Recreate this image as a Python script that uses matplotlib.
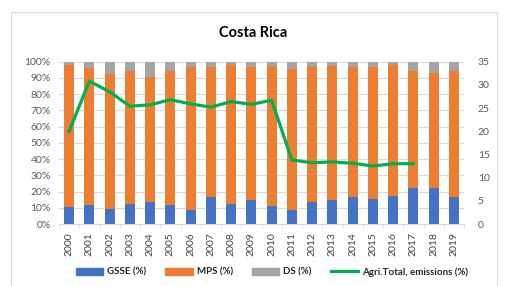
import numpy as np
import matplotlib
matplotlib.use("Agg")
import matplotlib.pyplot as plt
from matplotlib.lines import Line2D
from matplotlib.patches import Patch

plt.rcParams['font.family'] = ['Lato', 'DejaVu Sans']

years = [str(y) for y in range(2000, 2020)]
gsse = [10.3, 11.9, 9.4, 12.1, 13.3, 11.9, 8.8, 16.4, 12.5, 15.0,
        10.9, 8.8, 13.8, 15.0, 16.8, 15.6, 17.2, 22.4, 22.0, 16.4]
gsse_mps_top = [97.7, 95.9, 92.4, 94.5, 90.6, 94.0, 96.7, 96.5, 97.7, 96.5,
                97.1, 95.3, 96.5, 97.1, 96.5, 96.9, 97.7, 94.0, 93.2, 94.0]
mps = [t - g for t, g in zip(gsse_mps_top, gsse)]
ds = [100 - t for t in gsse_mps_top]
emissions = [20.0, 30.8, 28.5, 25.4, 25.7, 26.8, 25.9, 25.2, 26.4, 25.8,
             26.7, 13.8, 13.2, 13.4, 13.1, 12.5, 13.0, 13.0, np.nan, np.nan]

c_blue = '#4472C4'
c_orange = '#ED7D31'
c_gray = '#A5A5A5'
c_green = '#00B050'
txt = '#595959'
grid = '#D9D9D9'

fig = plt.figure(figsize=(5.06, 2.86), dpi=100, facecolor='white')
ax = fig.add_axes([59 / 506, 1 - 224 / 286, (464 - 59) / 506, (224 - 61.7) / 286])

x = np.arange(len(years))
w = 0.5
ax.bar(x, gsse, w, color=c_blue, zorder=2)
ax.bar(x, mps, w, bottom=gsse, color=c_orange, zorder=2)
ax.bar(x, ds, w, bottom=gsse_mps_top, color=c_gray, zorder=2)

ax.set_xlim(-0.5, len(years) - 0.5)
ax.set_ylim(0, 100)
ax.set_yticks(np.arange(0, 101, 10))
ax.set_yticklabels([f"{v}%" for v in range(0, 101, 10)])
ax.set_xticks(x)
ax.set_xticklabels(years, rotation=90)
ax.set_xticks(np.arange(-0.5, len(years), 1), minor=True)
ax.tick_params(axis='x', which='major', length=0, pad=6, labelsize=7.5, colors='#404040')
ax.tick_params(axis='x', which='minor', length=3, color=grid)
ax.tick_params(axis='y', length=0, pad=6, labelsize=7.5, colors=txt)
ax.grid(axis='y', color=grid, linewidth=0.8, zorder=0)
for s in ['top', 'right', 'left']:
    ax.spines[s].set_visible(False)
ax.spines['bottom'].set_color(grid)

ax2 = ax.twinx()
ax2.plot(x, emissions, color=c_green, linewidth=2.3, zorder=3)
ax2.set_ylim(0, 35)
ax2.set_yticks(np.arange(0, 36, 5))
ax2.tick_params(axis='y', length=0, pad=10, labelsize=7.5, colors=txt)
for s in ax2.spines.values():
    s.set_visible(False)

fig.text(253 / 506, 1 - 33 / 286, "Costa Rica", ha='center', va='center',
         fontsize=10.5, fontweight='bold', color='black')

handles = [Patch(color=c_blue), Patch(color=c_orange), Patch(color=c_gray),
           Line2D([0], [0], color=c_green, linewidth=2.3)]
labels = ['GSSE (%)', 'MPS (%)', 'DS (%)', 'Agri.Total, emissions (%)']
fig.legend(handles, labels, loc='center', bbox_to_anchor=(272 / 506, 1 - 272 / 286),
           ncol=4, frameon=False, prop={'size': 7, 'weight': 'bold'},
           handlelength=2.8, handleheight=0.7,
           handletextpad=0.4, columnspacing=2.0, labelcolor='#262626')

# chart border
fig.add_artist(Line2D([11.5 / 506, 11.5 / 506, 497 / 506, 497 / 506],
                      [0, 1 - 12 / 286, 1 - 12 / 286, 0],
                      transform=fig.transFigure, color=grid, linewidth=0.8))

fig.savefig("out.png", dpi=100)
